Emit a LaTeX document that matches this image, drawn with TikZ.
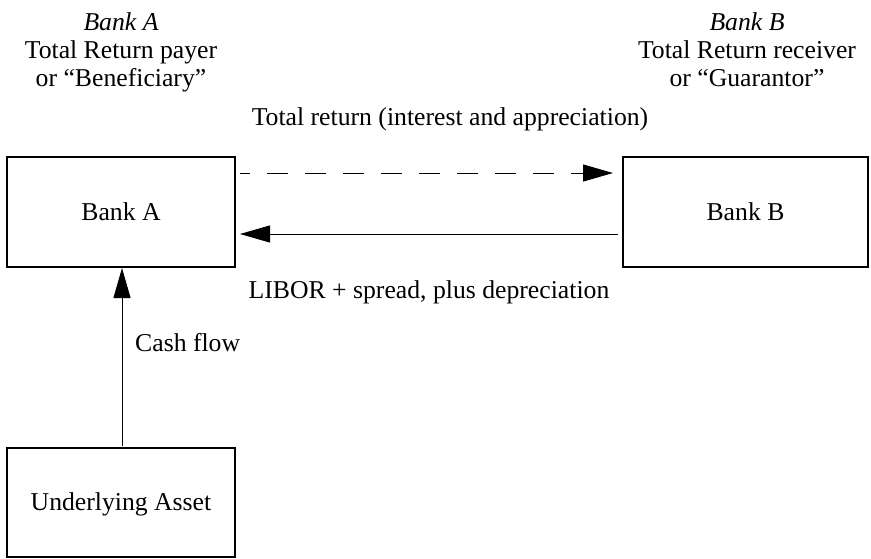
\documentclass[tikz,border=0pt]{standalone}
\usepackage{fontspec}
\setmainfont{Liberation Serif}
\usetikzlibrary{arrows.meta}
\begin{document}
\begin{tikzpicture}[x=1pt,y=-1pt,
  font=\fontsize{25.7}{30}\selectfont,
  box/.style={draw, line width=2pt, inner sep=0pt, text height=16pt, text depth=0pt},
  flow/.style={line width=1pt, -{Triangle[length=30pt,width=17pt]}},
  lbl/.style={anchor=base, inner sep=0pt}]
\useasboundingbox (0,0) rectangle (871,558);
% boxes
\node[box, minimum width=228pt, minimum height=110pt] (A) at (121,212) {Bank A};
\node[box, minimum width=245pt, minimum height=110pt] (B) at (745.5,212) {Bank B};
\node[box, minimum width=228pt, minimum height=109pt] (U) at (121,502.5) {Underlying Asset};
% top labels
\node[lbl] (ta1) at (121,30) {\itshape Bank A};
\node[lbl] (ta2) at (121,58) {Total Return payer};
\node[lbl] (ta3) at (121,86) {or “Beneficiary”};
\node[lbl] (tb1) at (747,30) {\itshape Bank B};
\node[lbl] (tb2) at (747,58) {Total Return receiver};
\node[lbl] (tb3) at (747,86) {or “Guarantor”};
% flow labels
\node[lbl] (lt) at (450,125) {Total return (interest and appreciation)};
\node[lbl] (ll) at (429,298) {LIBOR + spread, plus depreciation};
\node[lbl, anchor=base west] (lc) at (135,351) {Cash flow};
% connectors
\draw[flow, dash pattern=on 21pt off 17pt, dash phase=11pt]
  ([xshift=4pt,yshift=39pt]A.east) -- ([xshift=-9pt,yshift=39pt]B.west);
\draw[flow] ([xshift=-4pt,yshift=-22pt]B.west) -- ([xshift=4pt,yshift=-22pt]A.east);
\draw[flow] ([xshift=1pt,yshift=1pt]U.north) -- ([xshift=1pt]A.south);
\end{tikzpicture}
\end{document}
